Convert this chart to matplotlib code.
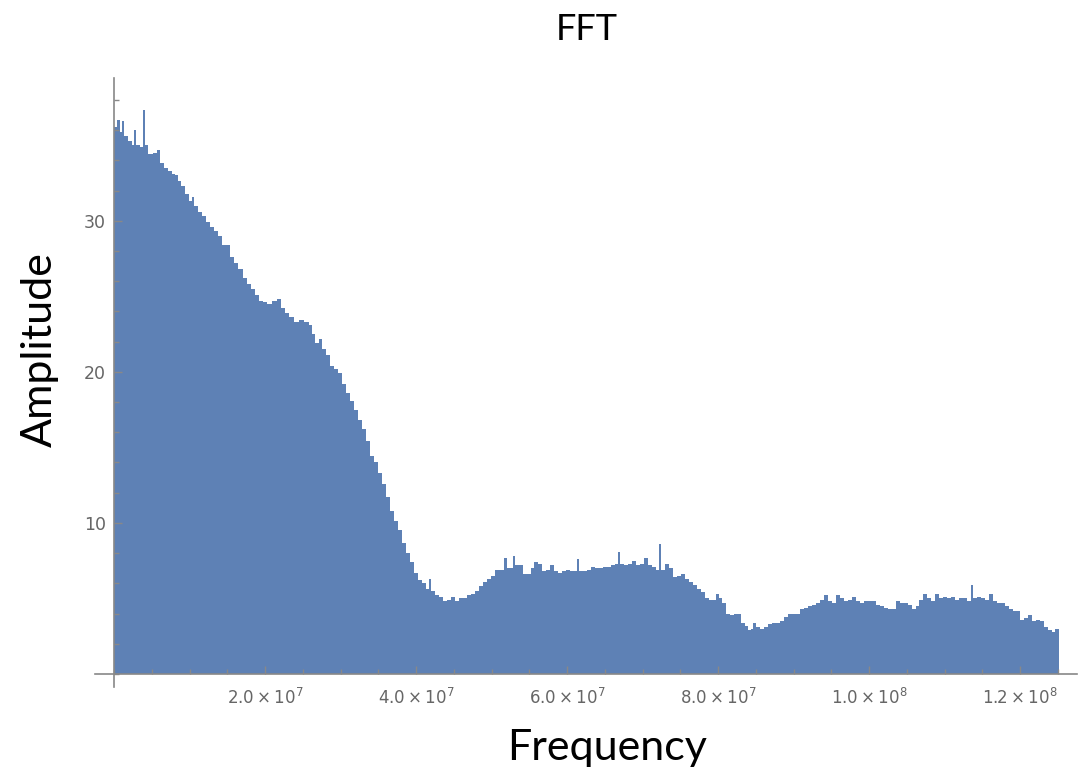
"""FFT amplitude spectrum, Mathematica-style filled plot."""

import matplotlib
matplotlib.use("Agg")
import matplotlib.pyplot as plt
import numpy as np
from matplotlib.ticker import FixedLocator, MultipleLocator

# frequency (MHz) at the left edge of each step, and the amplitude
FREQ_MHZ = [
    0.0, 0.4, 0.8, 1.1, 1.3, 1.9, 2.4, 2.6, 2.9, 3.4, 3.8, 4.1, 4.5, 5.2, 5.7, 6.1,
    6.6, 7.2, 7.7, 8.1, 8.5, 8.9, 9.4, 9.9, 10.3, 10.6, 11.1, 11.7, 12.2, 12.7, 13.2,
    13.8, 14.3, 14.8, 15.4, 15.9, 16.4, 17.1, 17.6, 18.1, 18.7, 19.2, 19.7, 20.3,
    20.9, 21.6, 22.1, 22.7, 23.2, 23.8, 24.5, 25.2, 25.8, 26.2, 26.6, 27.2, 27.6,
    28.1, 28.6, 29.1, 29.7, 30.2, 30.7, 31.3, 31.8, 32.3, 32.9, 33.4, 33.9, 34.4,
    35.0, 35.5, 36.0, 36.6, 37.1, 37.6, 38.2, 38.7, 39.2, 39.7, 40.3, 40.8, 41.3,
    41.7, 42.0, 42.5, 43.1, 43.6, 44.1, 44.6, 45.2, 45.7, 46.2, 46.8, 47.3, 47.8,
    48.4, 48.9, 49.4, 49.9, 50.5, 51.1, 51.7, 52.1, 52.5, 52.9, 53.1, 53.7, 54.2,
    54.7, 55.2, 55.6, 56.2, 56.7, 57.2, 57.8, 58.3, 58.8, 59.4, 59.9, 60.4, 60.9,
    61.3, 61.6, 62.1, 62.7, 63.2, 63.7, 64.2, 64.8, 65.3, 65.8, 66.4, 66.8, 67.0,
    67.6, 68.1, 68.6, 69.1, 69.7, 70.2, 70.7, 71.3, 71.8, 72.2, 72.4, 73.0, 73.5,
    74.0, 74.6, 75.1, 75.6, 76.2, 76.7, 77.2, 77.7, 78.3, 78.8, 79.3, 79.7, 80.1,
    80.5, 81.1, 81.6, 82.1, 82.6, 83.0, 83.6, 84.0, 84.4, 84.6, 85.0, 85.6, 86.1,
    86.6, 87.2, 87.7, 88.2, 88.7, 89.3, 89.8, 90.3, 90.9, 91.4, 91.9, 92.5, 93.0,
    93.5, 94.1, 94.6, 95.1, 95.6, 96.2, 96.7, 97.2, 97.8, 98.3, 98.8, 99.4, 99.9,
    100.4, 100.9, 101.5, 102.0, 102.5, 103.0, 103.6, 104.1, 104.6, 105.2, 105.7,
    106.2, 106.6, 107.2, 107.7, 108.2, 108.7, 109.3, 109.8, 110.3, 110.9, 111.4,
    111.9, 112.5, 113.0, 113.5, 113.8, 114.3, 114.8, 115.4, 115.9, 116.4, 117.0,
    117.5, 118.0, 118.5, 119.1, 119.6, 120.0, 120.5, 121.1, 121.6, 122.1, 122.7,
    123.2, 123.7, 124.2, 124.6,
]
AMPLITUDE = [
    36.2, 36.7, 35.9, 36.6, 35.6, 35.3, 35.0, 36.0, 35.0, 34.9, 37.3, 35.0, 34.4, 34.5, 34.7, 33.8,
    33.5, 33.3, 33.1, 33.0, 32.6, 32.3, 31.8, 31.3, 31.6, 31.0, 30.6, 30.3, 29.9, 29.6, 29.3,
    29.0, 28.4, 28.4, 27.6, 27.2, 26.8, 26.2, 25.8, 25.5, 25.1, 24.7, 24.6, 24.5,
    24.7, 24.8, 24.2, 23.9, 23.6, 23.3, 23.4, 23.3, 23.1, 22.5, 21.9, 22.2, 21.5,
    21.1, 20.4, 20.2, 19.9, 19.2, 18.6, 18.1, 17.5, 16.8, 16.2, 15.4, 14.4, 14.0,
    13.3, 12.6, 11.7, 10.8, 10.1, 9.5, 8.7, 8.0, 7.4, 6.7, 6.2, 6.0, 5.6,
    6.3, 5.5, 5.2, 5.1, 4.8, 4.9, 5.1, 4.8, 5.0, 5.0, 5.2, 5.3, 5.5,
    5.8, 6.1, 6.3, 6.5, 6.9, 6.9, 7.7, 7.0, 7.0, 7.8, 7.2, 7.2, 6.6,
    6.6, 7.0, 7.4, 7.3, 6.8, 6.9, 7.2, 6.8, 6.7, 6.8, 6.9, 6.8, 6.8,
    7.6, 6.8, 6.8, 6.9, 7.1, 7.0, 7.0, 7.1, 7.1, 7.2, 7.3, 8.1, 7.3,
    7.2, 7.3, 7.5, 7.2, 7.3, 7.7, 7.2, 7.1, 6.9, 8.6, 6.9, 7.3, 7.0,
    6.4, 6.5, 6.6, 6.3, 6.1, 5.9, 5.6, 5.4, 5.0, 4.9, 4.9, 5.3, 5.0,
    4.7, 4.0, 3.9, 4.0, 4.0, 3.4, 3.2, 2.9, 3.0, 3.4, 3.1, 3.0, 3.1,
    3.3, 3.4, 3.4, 3.5, 3.8, 4.0, 4.0, 4.0, 4.3, 4.4, 4.5, 4.6, 4.7,
    4.9, 5.2, 4.8, 4.7, 5.2, 5.0, 4.8, 4.9, 5.1, 4.8, 4.7, 4.8, 4.8,
    4.8, 4.6, 4.5, 4.4, 4.3, 4.3, 4.8, 4.7, 4.7, 4.6, 4.3,
    4.5, 4.9, 5.3, 5.0, 4.8, 5.3, 5.0, 5.1, 5.0, 5.1, 4.9,
    5.0, 5.0, 4.8, 5.9, 5.0, 5.1, 5.0, 4.9, 5.3, 4.8, 4.7,
    4.7, 4.5, 4.3, 4.2, 4.2, 3.6, 3.7, 3.9, 3.5, 3.6, 3.5,
    3.1, 2.9, 2.8, 3.0,
]
FREQ_END_MHZ = 125.2

X_TICKS = [2e7, 4e7, 6e7, 8e7, 1e8, 1.2e8]
X_TICK_LABELS = [r"$2.0\times10^{7}$", r"$4.0\times10^{7}$", r"$6.0\times10^{7}$",
                 r"$8.0\times10^{7}$", r"$1.0\times10^{8}$", r"$1.2\times10^{8}$"]
Y_TICKS = [10, 20, 30]

FILL = "#5E81B5"
AXIS_GREY = "#888888"
LABEL_GREY = "#666666"

fig = plt.figure(figsize=(10.89, 7.72), dpi=100)
ax = fig.add_axes([95 / 1089, 1 - 687 / 772, 982 / 1089, 609 / 772])

edges = np.append(FREQ_MHZ, FREQ_END_MHZ) * 1e6
ax.stairs(AMPLITUDE, edges, fill=True, color=FILL, linewidth=0)

ax.set_xlim(-2.52e6, 1.2755e8)
ax.set_ylim(-0.86, 39.45)

for side in ("top", "right"):
    ax.spines[side].set_visible(False)
ax.spines["left"].set_position(("data", 0))
ax.spines["bottom"].set_position(("data", 0))
for side in ("left", "bottom"):
    ax.spines[side].set_color(AXIS_GREY)
    ax.spines[side].set_linewidth(1.2)

ax.xaxis.set_major_locator(FixedLocator(X_TICKS))
ax.set_xticklabels(X_TICK_LABELS)
ax.xaxis.set_minor_locator(MultipleLocator(5e6))
ax.yaxis.set_major_locator(FixedLocator(Y_TICKS))
ax.yaxis.set_minor_locator(MultipleLocator(2))

ax.tick_params(which="both", direction="in", color=AXIS_GREY, width=1)
ax.tick_params(which="major", length=6)
ax.tick_params(which="minor", length=3.5)
ax.tick_params(axis="x", which="major", pad=10, labelsize=12, labelcolor=LABEL_GREY)
ax.tick_params(axis="y", which="major", pad=6, labelsize=12.5, labelcolor=LABEL_GREY)

fig.text(587 / 1089, 1 - 30 / 772, "FFT", ha="center", va="center",
         family="Lato", fontsize=26)
fig.text(607 / 1089, 1 - 748 / 772, "Frequency", ha="center", va="center",
         family="Lato", fontsize=31)
fig.text(40 / 1089, 1 - 350 / 772, "Amplitude", ha="center", va="center",
         rotation=90, family="Lato", fontsize=31)

fig.savefig("out.png", dpi=100)
